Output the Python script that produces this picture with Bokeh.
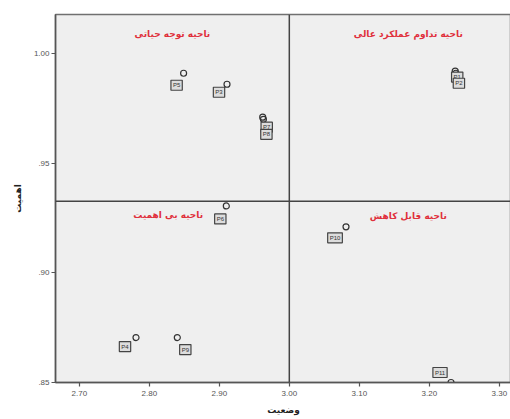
from bokeh.plotting import figure
from bokeh.models import Range1d, FixedTicker, CustomJSTickFormatter, Span, Label, ColumnDataSource
from bokeh.core.properties import value
from bokeh.embed import file_html
from bokeh.resources import INLINE

# ---- data ----
status = [2.849, 2.911, 2.962, 2.963, 3.237, 3.238, 2.910, 2.781, 2.840, 3.081, 3.231]      # وضعیت
importance = [0.991, 0.986, 0.971, 0.970, 0.992, 0.991, 0.9305, 0.8705, 0.8705, 0.921, 0.850]  # اهمیت
codes = ["P5", "P3", "P7", "P8", "P1", "P2", "P6", "P4", "P9", "P10", "P11"]
status_mean = 3.00
importance_mean = 0.9327
x_ticks = [2.70, 2.80, 2.90, 3.00, 3.10, 3.20, 3.30]
y_ticks = [0.85, 0.90, 0.95, 1.00]
quadrant_names = ["ناحیه توجه حیاتی", "ناحیه تداوم عملکرد عالی", "ناحیه بی اهمیت", "ناحیه قابل کاهش"]
x_title = "وضعیت"
y_title = "اهمیت"

# ---- layout / styling (not data) ----
label_dx = [-7, -8, 4, 3, 2, 3, -6, -11, 8, -11, -11]
label_dy = [12, 8, 10, 15, 6, 10, 13, 9, 12, 11, -10]
quad_pos = [(2.833, 1.0091), (3.17, 1.0091), (2.827, 0.9266), (3.17, 0.926)]

p = figure(frame_width=456, frame_height=368,
           x_range=Range1d(2.666, 3.3174), y_range=Range1d(0.85, 1.0178),
           output_backend="svg", toolbar_location=None,
           min_border_left=55, min_border_right=0, min_border_top=14, min_border_bottom=20)

p.background_fill_color = "#efefef"
p.border_fill_color = "white"
p.outline_line_color = "#707070"
p.outline_line_width = 1.5
p.xgrid.visible = False
p.ygrid.visible = False

for ax, ticks in ((p.xaxis, x_ticks), (p.yaxis, y_ticks)):
    ax.ticker = FixedTicker(ticks=ticks)
    ax.minor_tick_line_color = None
    ax.major_tick_out = 4
    ax.major_tick_in = 0
    ax.axis_line_color = "#555555"
    ax.axis_line_width = 1.5
    ax.major_tick_line_color = "#555555"
    ax.major_tick_line_width = 1.2
    ax.major_label_text_font = "Liberation Sans"
    ax.major_label_text_font_size = "8px"
    ax.major_label_text_color = "#555555"
    ax.axis_label_text_font = "DejaVu Sans"
    ax.axis_label_text_font_style = "bold"
    ax.axis_label_text_font_size = "9px"
    ax.axis_label_text_color = "#222222"

p.xaxis.formatter = CustomJSTickFormatter(code="return tick.toFixed(2);")
p.yaxis.formatter = CustomJSTickFormatter(
    code="var s = tick.toFixed(2); return tick < 1 ? s.replace(/^0/, '') : s;")
p.xaxis.major_label_standoff = 4
p.yaxis.major_label_standoff = 2
p.xaxis.axis_label = x_title
p.yaxis.axis_label = y_title
p.xaxis.axis_label_standoff = 6
p.yaxis.axis_label_standoff = 8

p.add_layout(Span(location=status_mean, dimension="height", line_color="#444444", line_width=1.5))
p.add_layout(Span(location=importance_mean, dimension="width", line_color="#444444", line_width=1.5))

src = ColumnDataSource(dict(x=status, y=importance, code=codes, dx=label_dx, dy=label_dy))
p.scatter("x", "y", source=src, size=6, marker="circle", fill_color=None,
          line_color="#333333", line_width=1.2)
p.text("x", "y", text="code", source=src, x_offset="dx", y_offset="dy",
       text_font=value("Liberation Sans"), text_font_size="6px", text_color="#333333",
       text_align="center", text_baseline="middle",
       background_fill_color="#dddddd", border_line_color="#444444", border_line_width=1.2,
       padding=2)

for name, (qx, qy) in zip(quadrant_names, quad_pos):
    p.add_layout(Label(x=qx, y=qy, text=name, text_align="center", text_baseline="middle",
                       text_font="DejaVu Sans", text_font_style="bold", text_font_size="9px",
                       text_color="#e0303c"))

open("out.html", "w").write(file_html(p, INLINE))
